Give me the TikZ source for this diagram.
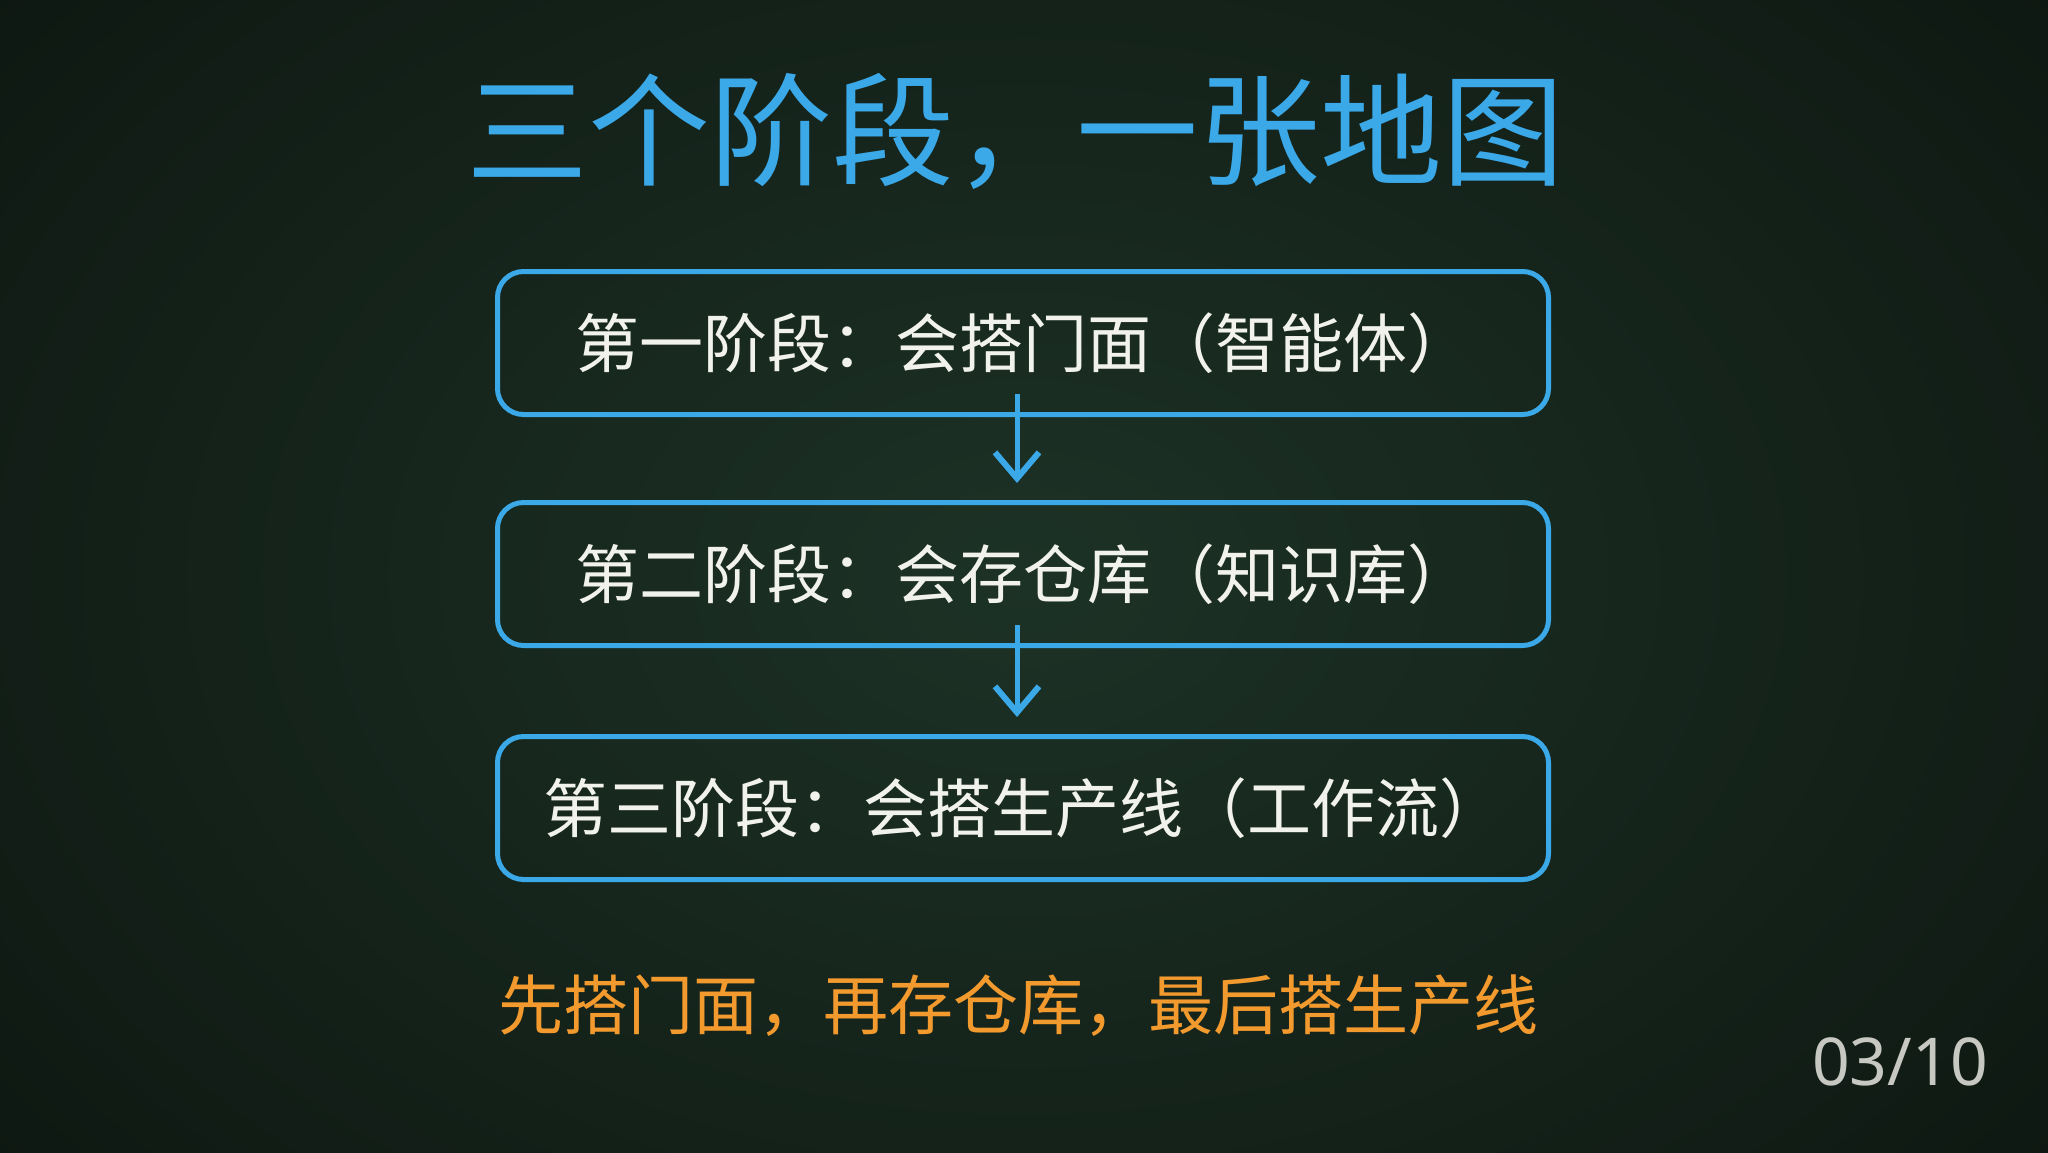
\documentclass[tikz,border=0pt]{standalone}
\usepackage{fontspec}
\usepackage[HTML]{xcolor}
\usepackage{tikz}
\usetikzlibrary{positioning, arrows.meta}
\newfontfamily\cjk{Noto Sans CJK SC}
\newfontfamily\numfont{Noto Sans}

\definecolor{board}{HTML}{1D3226}
\definecolor{boardedge}{HTML}{0C140F}
\definecolor{chalkblue}{HTML}{3BA8E8}
\definecolor{chalkwhite}{HTML}{F2F2EC}
\definecolor{chalkorange}{HTML}{F39A2E}
\definecolor{chalkgray}{HTML}{C8C8C3}

\begin{document}
\begin{tikzpicture}[x=1pt, y=-1pt,
  stagebox/.style={draw=chalkblue, line width=5pt, rounded corners=26pt,
    minimum width=1051pt, minimum height=143pt, text=chalkwhite,
    font=\cjk\fontsize{64}{64}\selectfont},
  flow/.style={draw=chalkblue, line width=5pt,
    -{Straight Barb[length=26pt, width=44pt, line width=6pt]}}]
% board
\useasboundingbox (0,0) rectangle (2048,1152);
\fill[board] (0,0) rectangle (2048,1152);
\shade[inner color=board, outer color=boardedge] (-500,-500) rectangle (2548,1652);
% title
\node[text=chalkblue, font=\cjk\fontsize{122}{122}\selectfont] (title) at (1015,131) {三个阶段，一张地图};
% stages
\node[stagebox] (stage1) at (1023,343) {第一阶段：会搭门面（智能体）};
\node[stagebox] (stage2) at (1023,574) {第二阶段：会存仓库（知识库）};
\node[stagebox] (stage3) at (1023,808) {第三阶段：会搭生产线（工作流）};
% arrows
\draw[flow] ([xshift=-6pt, yshift=23pt]stage1.south) -- ([xshift=-6pt, yshift=17pt]stage2.north);
\draw[flow] ([xshift=-6pt, yshift=23pt]stage2.south) -- ([xshift=-6pt, yshift=17pt]stage3.north);
% motto
\node[text=chalkorange, font=\cjk\fontsize{65}{65}\selectfont] (motto) at (1018,1006) {先搭门面，再存仓库，最后搭生产线};
% page number
\node[text=chalkgray, font=\numfont\fontsize{66}{66}\selectfont] (pagenum) at (1900,1062) {03/10};
\end{tikzpicture}
\end{document}
